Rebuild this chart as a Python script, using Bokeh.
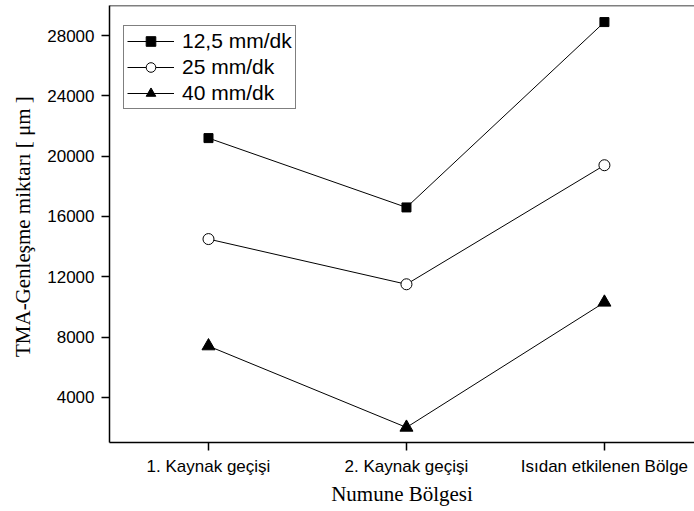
from bokeh.plotting import figure
from bokeh.models import FixedTicker, Span, Legend, LegendItem, Range1d
from bokeh.embed import file_html
from bokeh.resources import INLINE

categories = ["1. Kaynak geçişi", "2. Kaynak geçişi", "Isıdan etkilenen Bölge"]
series_names = ["12,5 mm/dk", "25 mm/dk", "40 mm/dk"]
vals_125 = [21200, 16600, 28900]
vals_25 = [14500, 11500, 19400]
vals_40 = [7400, 2000, 10300]
y_ticks = [4000, 8000, 12000, 16000, 20000, 24000, 28000]

xs = list(range(1, len(categories) + 1))

p = figure(width=694, height=510, output_backend="svg", toolbar_location=None,
           x_range=Range1d(0.5, 3.455), y_range=Range1d(1000, 30000),
           min_border_left=109, min_border_right=0, min_border_top=5,
           min_border_bottom=68)
p.outline_line_color = None
p.grid.visible = False
p.background_fill_color = "white"
p.border_fill_color = "white"

sans = "Liberation Sans"
serif = "Liberation Serif"

# axes
p.xaxis.ticker = FixedTicker(ticks=xs)
p.xaxis.major_label_overrides = {i: c for i, c in zip(xs, categories)}
p.yaxis.ticker = FixedTicker(ticks=y_ticks)
for ax in (p.xaxis[0], p.yaxis[0]):
    ax.axis_line_width = 1.5
    ax.axis_line_color = "black"
    ax.major_tick_line_width = 1.5
    ax.major_tick_line_color = "black"
    ax.major_tick_out = 8
    ax.major_tick_in = 0
    ax.minor_tick_line_color = None
    ax.major_label_text_font = sans
    ax.major_label_text_font_size = "17px"
    ax.major_label_text_color = "black"
    ax.axis_label_text_font = serif
    ax.axis_label_text_font_size = "21px"
    ax.axis_label_text_font_style = "normal"
    ax.axis_label_text_color = "black"

p.xaxis.axis_label = "Numune Bölgesi"
p.yaxis.axis_label = "TMA-Genleşme miktarı  [ μm ]"
p.xaxis.major_label_standoff = 6
p.xaxis.axis_label_standoff = 3
p.yaxis.major_label_standoff = 7
p.yaxis.axis_label_standoff = 9

# top frame line
p.add_layout(Span(location=p.y_range.end, dimension="width",
                  line_color="black", line_width=1.5))

l1 = p.line(xs, vals_125, line_color="black", line_width=1)
m1 = p.scatter(xs, vals_125, marker="square", size=9, fill_color="black", line_color="black")
l2 = p.line(xs, vals_25, line_color="black", line_width=1)
m2 = p.scatter(xs, vals_25, marker="circle", size=11, fill_color="white", line_color="black", line_width=1)
l3 = p.line(xs, vals_40, line_color="black", line_width=1)
m3 = p.scatter(xs, vals_40, marker="triangle", size=13, fill_color="black", line_color="black")

legend = Legend(items=[
    LegendItem(label=series_names[0], renderers=[l1, m1]),
    LegendItem(label=series_names[1], renderers=[l2, m2]),
    LegendItem(label=series_names[2], renderers=[l3, m3]),
], location=(14, 333))
legend.label_text_font = sans
legend.label_text_font_size = "21px"
legend.label_text_color = "black"
legend.glyph_width = 47
legend.glyph_height = 24
legend.label_height = 24
legend.label_standoff = 8
legend.spacing = 2
legend.padding = 3
legend.margin = 0
legend.border_line_color = "black"
legend.border_line_width = 1
legend.background_fill_alpha = 1
p.add_layout(legend, "center")

open("out.html", "w").write(file_html(p, INLINE))
